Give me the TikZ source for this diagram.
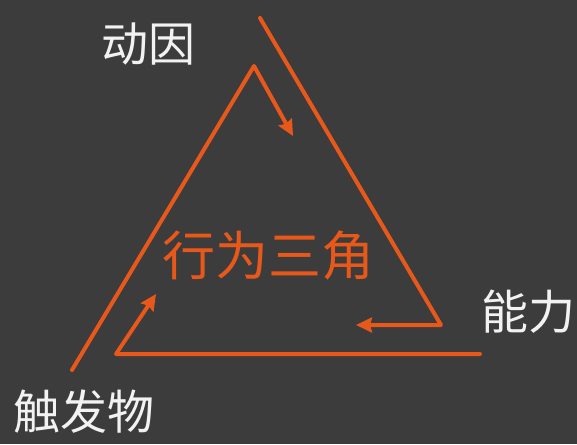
\documentclass[tikz,border=0pt]{standalone}
\usepackage{fontspec}
\newfontfamily\cjk{Noto Sans CJK SC}
\usetikzlibrary{arrows.meta}
\definecolor{bg}{HTML}{3C3C3C}
\definecolor{org}{HTML}{E8581A}
\definecolor{txt}{HTML}{F2F2F2}
\tikzset{
  edge/.style={draw=org, line width=4pt, line join=round, line cap=round},
  arr/.style={edge, -{Stealth[inset=2pt,length=16pt,width=15pt]}},
  lbl/.style={text=txt, font=\cjk\fontsize{47}{47}\selectfont, inner sep=0pt},
}
\begin{document}
\begin{tikzpicture}[x=1pt,y=-1pt]
\fill[bg] (0,0) rectangle (577,444);
\useasboundingbox (0,0) rectangle (577,444);
% coordinates
\coordinate (L1s) at (72,370);
\coordinate (apex) at (254,66);
\coordinate (t1) at (293,136);
\coordinate (R1s) at (260,18);
\coordinate (rc) at (441,325);
\coordinate (t2) at (356,325);
\coordinate (B1e) at (480,354);
\coordinate (bc) at (116,354);
\coordinate (t3) at (156,294);
% lines
\draw[arr] (L1s) -- (apex) -- (t1);
\draw[arr] (R1s) -- (rc) -- (t2);
\draw[arr] (B1e) -- (bc) -- (t3);
% labels
\node[lbl] (dongyin) at (148,44) {动因};
\node[lbl] (nengli) at (528,312) {能力};
\node[lbl] (chufa) at (84,412) {触发物};
\node[text=org, font=\cjk\fontsize{53}{53}\selectfont, inner sep=0pt] (title) at (268,255) {行为三角};
\end{tikzpicture}
\end{document}
